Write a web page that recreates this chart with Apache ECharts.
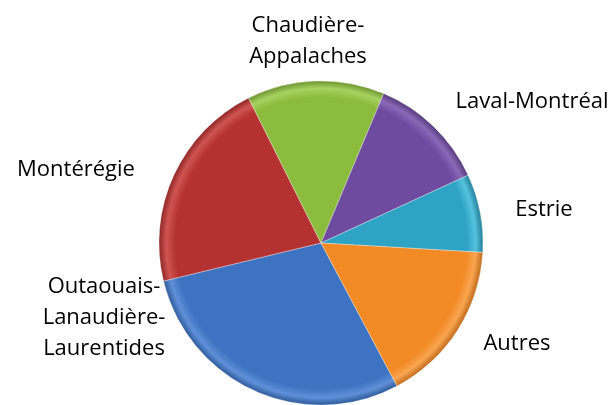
<!DOCTYPE html>
<html lang="fr">
<head>
    <meta charset="UTF-8">
    <script src="https://cdn.jsdelivr.net/npm/echarts/dist/echarts.min.js"></script>
    <style>
        body, html { margin: 0; padding: 0; background: #fff; }
        #chart { width: 616px; height: 405px; }
    </style>
</head>
<body>
    <div id="chart"></div>
    <script>
        // series order as in the spreadsheet (Excel colour order)
        const regions = ['Outaouais-\nLanaudière-\nLaurentides', 'Montérégie', 'Chaudière-\nAppalaches', 'Laval-Montréal', 'Estrie', 'Autres'];
        const shares = [29.0, 21.4, 13.7, 11.8, 7.8, 16.3];
        const colors = ['#3d73c0', '#b53232', '#8cbc3e', '#6e4b9e', '#2ea3c3', '#f28a26'];
        const lightColors = ['#5f90d8', '#cf5452', '#a6d260', '#8a69b8', '#55c2df', '#faa550'];
        const darkColors = ['#2d5a9a', '#8e2626', '#6e942e', '#553a7c', '#227f98', '#c06b1a'];

        // where Excel put each label (centre of the text block)
        const labelSpots = [[104, 318], [76, 170], [308, 41], [532, 102], [544, 210], [517, 344]];

        const cx = 321, cy = 243, r = 162;

        const chart = echarts.init(document.getElementById('chart'), null, { renderer: 'canvas' });

        const data = regions.map((name, i) => ({
            name: name,
            value: shares[i],
            itemStyle: {
                color: {
                    type: 'radial', x: cx, y: cy, r: r, global: true,
                    colorStops: [
                        { offset: 0, color: colors[i] },
                        { offset: 0.9, color: colors[i] },
                        { offset: 0.955, color: lightColors[i] },
                        { offset: 1, color: darkColors[i] }
                    ]
                }
            }
        }));

        chart.setOption({
            animation: false,
            series: [{
                type: 'pie',
                center: [cx, cy],
                radius: [0, r],
                startAngle: 90 - 152, // first slice starts at 152 deg clockwise from top
                clockwise: true,
                avoidLabelOverlap: false,
                itemStyle: {
                    borderColor: 'rgba(255,255,255,0.3)',
                    borderWidth: 1
                },
                label: {
                    show: true,
                    position: 'outside',
                    fontFamily: 'Open Sans',
                    fontSize: 22,
                    lineHeight: 31,
                    color: '#000',
                    align: 'center'
                },
                labelLine: { show: false },
                labelLayout: function (params) {
                    const p = labelSpots[params.dataIndex];
                    return { x: p[0], y: p[1], align: 'center', verticalAlign: 'middle' };
                },
                data: data
            }]
        });
    </script>
</body>
</html>
